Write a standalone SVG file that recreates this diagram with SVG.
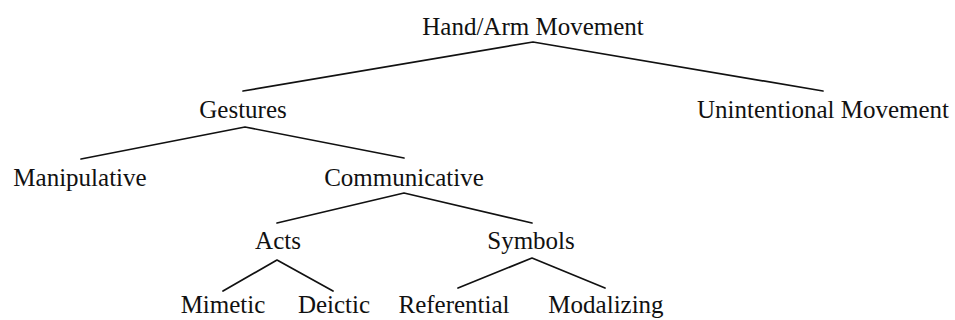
<svg xmlns="http://www.w3.org/2000/svg" width="955" height="320" viewBox="0 0 955 320">
<style>
  text { font-family: "Liberation Serif", "Times New Roman", serif; font-size: 25px; fill: #111; text-anchor: middle; }
  .edge { stroke: #111; stroke-width: 1.7; fill: none; stroke-linecap: round; stroke-linejoin: round; }
</style>
<rect width="955" height="320" fill="#fff"/>
<g id="connectors">
  <polyline class="edge" points="243,91 533,42 823,91"/>
  <polyline class="edge" points="81,159 245,127 404,158"/>
  <polyline class="edge" points="277,223 404,193 532,223"/>
  <polyline class="edge" points="223,291 277,260 333,291"/>
  <polyline class="edge" points="458,288 532,258 605,288"/>
</g>
<g id="hand-arm-movement"><text x="533" y="35">Hand/Arm Movement</text></g>
<g id="gestures"><text x="243" y="118">Gestures</text></g>
<g id="unintentional-movement"><text x="823" y="118">Unintentional Movement</text></g>
<g id="manipulative"><text x="80" y="186">Manipulative</text></g>
<g id="communicative"><text x="404" y="186">Communicative</text></g>
<g id="acts"><text x="278" y="249">Acts</text></g>
<g id="symbols"><text x="531" y="249">Symbols</text></g>
<g id="mimetic"><text x="223" y="313">Mimetic</text></g>
<g id="deictic"><text x="334" y="313">Deictic</text></g>
<g id="referential"><text x="454" y="313">Referential</text></g>
<g id="modalizing"><text x="606" y="313">Modalizing</text></g>
</svg>
